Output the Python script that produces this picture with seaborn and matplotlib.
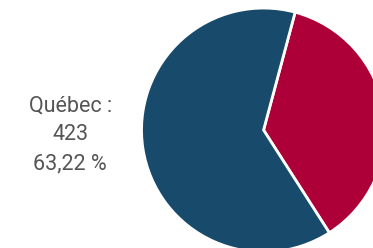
import math
import matplotlib
matplotlib.use("Agg")
import matplotlib.pyplot as plt
import seaborn as sns

# data
categories = ["Autres", "Québec"]
values = [246, 423]
colors = ["#AE0038", "#174A6B"]

sns.set_theme(style="white")
plt.rcParams['font.family'] = ['Roboto', 'DejaVu Sans']

fig = plt.figure(figsize=(3.73, 2.48), dpi=100)
ax = fig.add_axes([0, 0, 1, 1])

ax.pie(values, colors=sns.color_palette(colors), startangle=75, counterclock=False,
       radius=1, wedgeprops=dict(edgecolor="white", linewidth=2))

total = sum(values)
pct = math.floor(values[1] / total * 10000) / 100
label = f"{categories[1]} :\n{values[1]}\n{pct:.2f} %".replace(".", ",")
ax.text(-1.585, -0.04, label, ha="center", va="center", fontsize=15.5,
        color="#555555", linespacing=1.5)

ax.set_xlim(-2.16, 0.897)
ax.set_ylim(-0.967, 1.066)
ax.set_aspect("auto")
ax.axis("off")

fig.savefig("out.png", dpi=100)
